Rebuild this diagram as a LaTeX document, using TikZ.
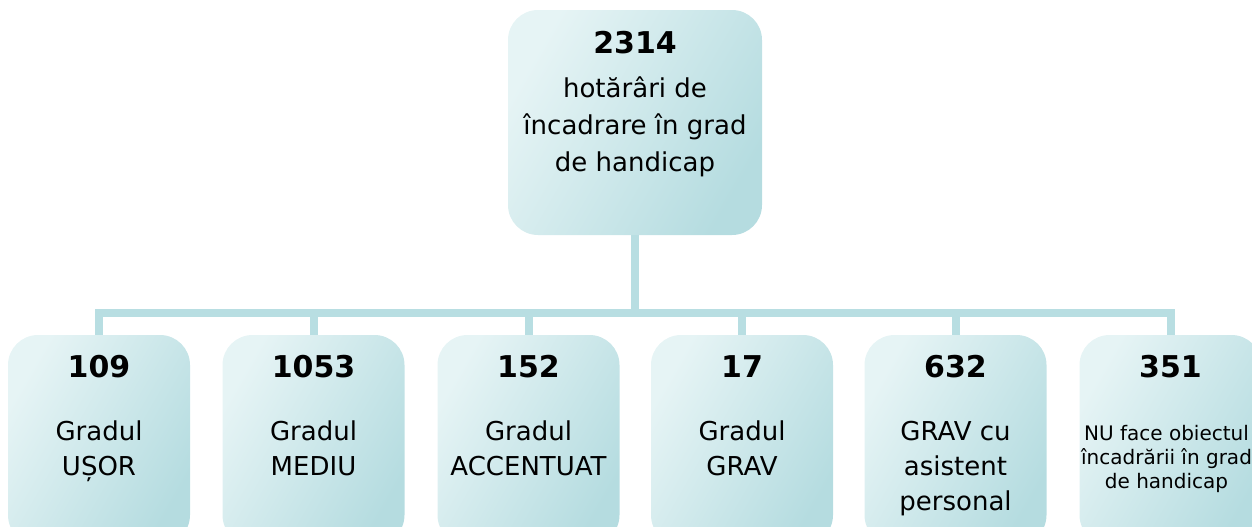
\documentclass[tikz,border=0pt]{standalone}
\usepackage{fontspec}
\setmainfont{DejaVu Sans}
\usetikzlibrary{positioning}

\definecolor{boxlight}{HTML}{E6F4F5}
\definecolor{boxdark}{HTML}{B5DCE0}
\definecolor{linkcol}{HTML}{B8DEE2}

\tikzset{
  gradbox/.style={rounded corners=15pt, top color=boxlight, bottom color=boxdark,
    shading angle=60, minimum width=91pt, minimum height=105pt, inner sep=0pt},
  topbox/.style={gradbox, minimum width=127pt, minimum height=112.5pt},
  num/.style={font=\bfseries\fontsize{15}{18}\selectfont, inner sep=0pt},
  txt/.style={align=center, anchor=north, font=\fontsize{13}{17.5}\selectfont, inner sep=0pt},
  smalltxt/.style={txt, font=\fontsize{10}{12}\selectfont},
  link/.style={draw=linkcol, line width=4pt}
}

\begin{document}
\begin{tikzpicture}[x=0.5pt,y=-0.5pt]
            \useasboundingbox (0,0) rectangle (1252,526);
            \clip (0,0) rectangle (1252,526);
            % boxes
            \node[topbox] (total) at (635,122.5) {};
            \node[gradbox] (usor) at (99,440) {};
            \node[gradbox] (mediu) at (313.5,440) {};
            \node[gradbox] (accentuat) at (528.5,440) {};
            \node[gradbox] (grav) at (742,440) {};
            \node[gradbox] (asistent) at (955.5,440) {};
            \node[gradbox] (neincadrat) at (1170.5,440) {};
            % connectors
            \coordinate (bus) at (635,313);
            \draw[link] (total.south) -- (bus);
            \draw[link] (bus) -| (usor.north);
            \draw[link] (bus) -| (mediu.north);
            \draw[link] (bus) -| (accentuat.north);
            \draw[link] (bus) -| (grav.north);
            \draw[link] (bus) -| (asistent.north);
            \draw[link] (bus) -| (neincadrat.north);
            % texts
            \node[num] (total num) at ([yshift=-16.5pt]total.north) {2314};
            \node[txt, font=\fontsize{13}{18.5}\selectfont] (total txt) at ([yshift=-33.5pt]total.north) {hotărâri de\\încadrare în grad\\de handicap};
            \node[num] (usor num) at ([yshift=-16pt]usor.north) {109};
            \node[txt] (usor txt) at ([yshift=-43pt]usor.north) {Gradul\\UȘOR};
            \node[num] (mediu num) at ([yshift=-16pt]mediu.north) {1053};
            \node[txt] (mediu txt) at ([yshift=-43pt]mediu.north) {Gradul\\MEDIU};
            \node[num] (accentuat num) at ([yshift=-16pt]accentuat.north) {152};
            \node[txt] (accentuat txt) at ([yshift=-43pt]accentuat.north) {Gradul\\ACCENTUAT};
            \node[num] (grav num) at ([yshift=-16pt]grav.north) {17};
            \node[txt] (grav txt) at ([yshift=-43pt]grav.north) {Gradul\\GRAV};
            \node[num] (asistent num) at ([yshift=-16pt]asistent.north) {632};
            \node[txt] (asistent txt) at ([yshift=-43pt]asistent.north) {GRAV cu\\asistent\\personal};
            \node[num] (neincadrat num) at ([yshift=-16pt]neincadrat.north) {351};
            \node[smalltxt] (neincadrat txt) at ([yshift=-45pt,xshift=-2pt]neincadrat.north) {NU face obiectul\\încadrării în grad\\de handicap};
        \end{tikzpicture}
\end{document}
